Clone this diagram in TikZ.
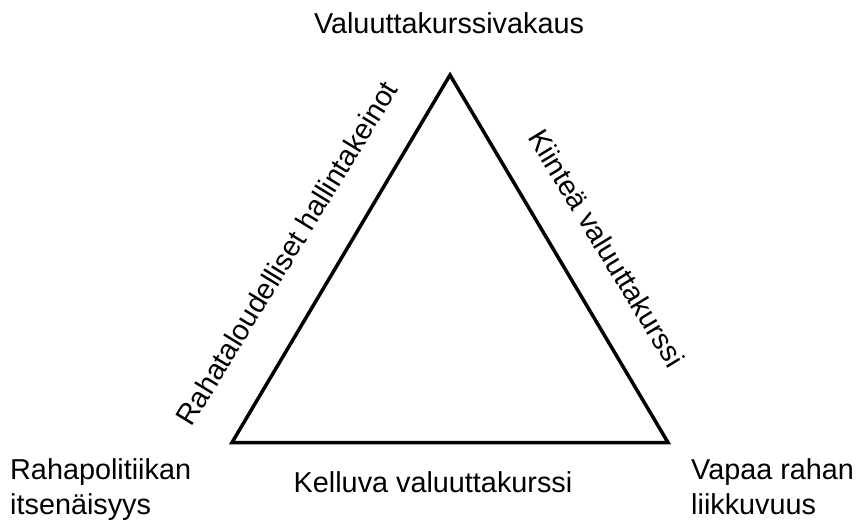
\documentclass[tikz,border=0pt]{standalone}
\usepackage{fontspec}
\setmainfont{Liberation Sans}
\begin{document}
\begin{tikzpicture}[x=1pt,y=-1pt,
  lbl/.style={inner sep=0pt, font=\fontsize{28.8}{35}\selectfont},
  edge/.style={line width=3.5pt, line join=miter}]
\useasboundingbox (0,0) rectangle (858,521);
\coordinate (T) at (450,75);
\coordinate (L) at (232,442.5);
\coordinate (R) at (668,442.5);
\draw[edge] (T) -- (L) -- (R) -- cycle;
\node[lbl, anchor=base] (top) at (449,34) {Valuuttakurssivakaus};
\node[lbl, anchor=base] (bottom) at (433,492) {Kelluva valuuttakurssi};
\node[lbl, anchor=base west, align=left] (lefttext) at (10,514) {Rahapolitiikan\\itsenäisyys};
\node[lbl, anchor=base west, align=left] (righttext) at (691,514) {Vapaa rahan\\liikkuvuus};
\node[lbl, anchor=base, rotate=58.5] (leftedge) at (295.5,258.5) {Rahataloudelliset hallintakeinot};
\node[lbl, anchor=base, rotate=-58.6] (rightedge) at (598,253.5) {Kiinteä valuuttakurssi};
\end{tikzpicture}
\end{document}
